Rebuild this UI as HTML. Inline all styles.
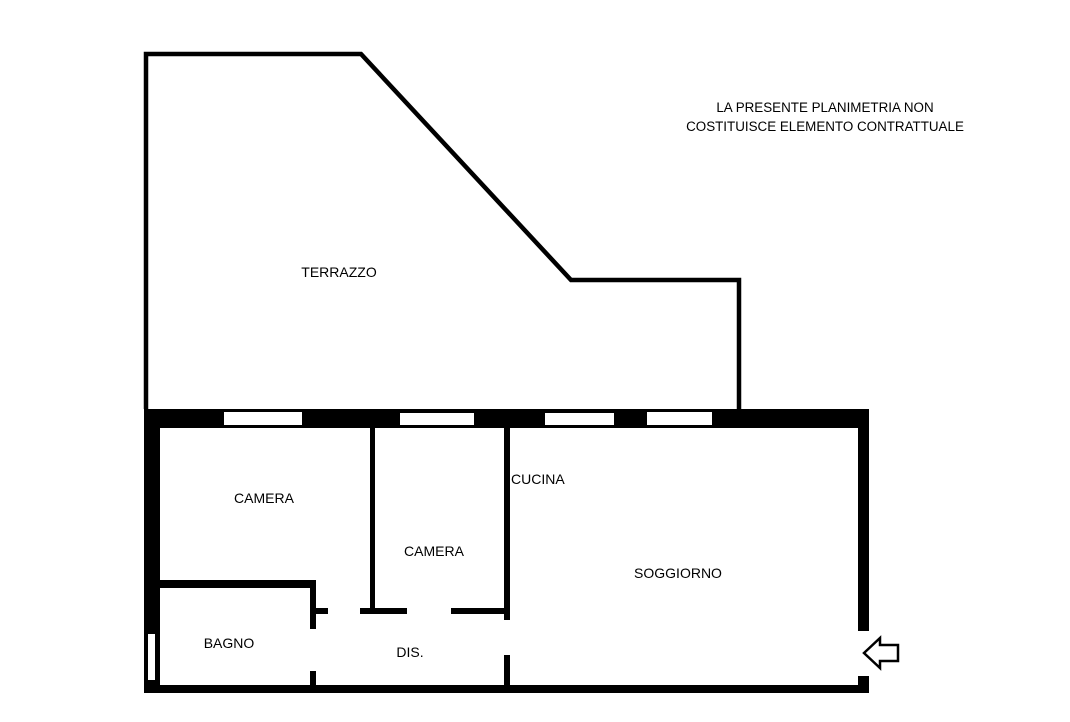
<!DOCTYPE html>
<html><head><meta charset="utf-8"><style>
html,body{margin:0;padding:0;background:#fff;}
svg{display:block;}
text{font-family:"Liberation Sans","DejaVu Sans",sans-serif;font-size:14px;fill:#000;}
</style></head><body>
<svg width="1070" height="722" viewBox="0 0 1070 722" xmlns="http://www.w3.org/2000/svg">
<polyline points="146,409 146,54 361,54 571,280 739,280 739,409" fill="none" stroke="#000" stroke-width="4.5"/>
<rect x="144" y="409" width="725" height="19" fill="#000"/>
<rect x="224" y="412" width="78" height="13" fill="#fff"/>
<rect x="400" y="413" width="74" height="12" fill="#fff"/>
<rect x="545" y="413" width="69" height="12" fill="#fff"/>
<rect x="647" y="412" width="65" height="13" fill="#fff"/>
<rect x="144" y="409" width="16" height="284" fill="#000"/>
<rect x="148" y="634" width="7" height="46" fill="#fff"/>
<rect x="144" y="685" width="725" height="8" fill="#000"/>
<rect x="858" y="409" width="11" height="222" fill="#000"/>
<rect x="858" y="676" width="11" height="17" fill="#000"/>
<rect x="160" y="580" width="156" height="8" fill="#000"/>
<rect x="310" y="580" width="6" height="49" fill="#000"/>
<rect x="316" y="608" width="12" height="6" fill="#000"/>
<rect x="310" y="671" width="6" height="20" fill="#000"/>
<rect x="370" y="428" width="5" height="186" fill="#000"/>
<rect x="360" y="608" width="47" height="6" fill="#000"/>
<rect x="451" y="608" width="57" height="6" fill="#000"/>
<rect x="504" y="428" width="6" height="192" fill="#000"/>
<rect x="504" y="655" width="6" height="36" fill="#000"/>
<polygon points="864,653 880,638 880,645 898,645 898,661 880,661 880,668" fill="#fff" stroke="#000" stroke-width="2.5"/>
<text x="825" y="112" text-anchor="middle" style="font-size:13.4px">LA PRESENTE PLANIMETRIA NON</text>
<text x="825" y="131" text-anchor="middle" style="font-size:13.4px">COSTITUISCE ELEMENTO CONTRATTUALE</text>
<text x="339" y="277" text-anchor="middle">TERRAZZO</text>
<text x="264" y="503" text-anchor="middle">CAMERA</text>
<text x="434" y="556" text-anchor="middle">CAMERA</text>
<text x="511" y="484">CUCINA</text>
<text x="678" y="578" text-anchor="middle">SOGGIORNO</text>
<text x="229" y="648" text-anchor="middle">BAGNO</text>
<text x="410" y="657" text-anchor="middle">DIS.</text>
</svg>
</body></html>
